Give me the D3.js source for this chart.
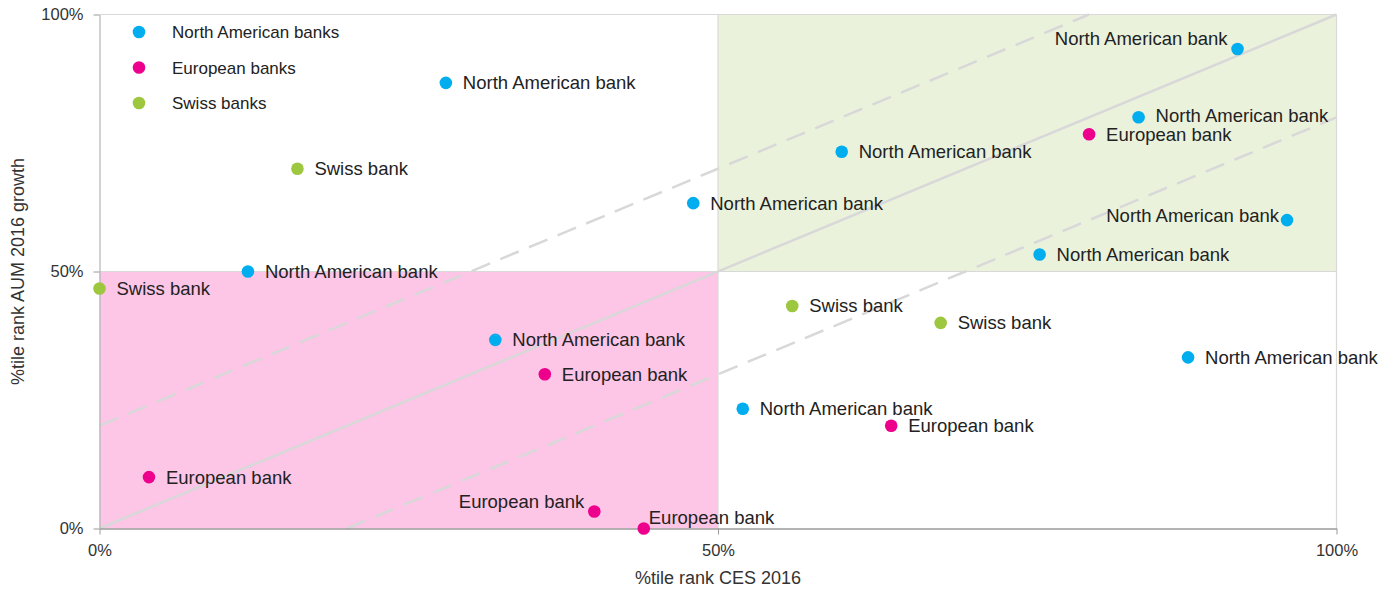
<!DOCTYPE html>
<html>
<head>
<meta charset="utf-8">
<script src="https://cdn.jsdelivr.net/npm/d3@7"></script>
<style>
  html, body { margin: 0; padding: 0; background: #fff; }
  svg { display: block; font-family: "Liberation Sans", Arial, sans-serif; }
</style>
</head>
<body>
<svg id="chart" width="1396" height="592"></svg>
<script>
// ---- data ----
const names = [
  "North American bank","Swiss bank","North American bank","North American bank","Swiss bank",
  "North American bank","European bank","European bank","European bank","European bank",
  "North American bank","Swiss bank","European bank","Swiss bank","North American bank",
  "North American bank","European bank","North American bank","North American bank","North American bank",
  "North American bank"
];
const groups = [
  "NA","CH","NA","NA","CH",
  "NA","EU","EU","EU","EU",
  "NA","CH","EU","CH","NA",
  "NA","EU","NA","NA","NA",
  "NA"
];
const cesRank = [28,16,48,12,0, 32,36,4,40,44, 52,56,64,68,60, 76,80,84,88,92, 96];
const aumRank = [86.7,70,63.3,50,46.7, 36.7,30,10,3.3,0, 23.3,43.3,20,40,73.3, 53.3,76.7,80,33.3,93.3, 60];
// label placement: "r" right of dot, "l" left of dot, "la"/"ra" left/right above, "ru" right slightly up
const labelPos = ["r","r","r","r","r", "r","r","r","la","ra", "r","r","r","r","r", "r","r","ru","r","la", "l"];

const legendNames = ["North American banks","European banks","Swiss banks"];
const legendKeys = ["NA","EU","CH"];
const xTicks = [0, 50, 100];
const yTicks = [0, 50, 100];
const diagonals = [
  {pts: [[0,0],[100,100]], dash: null},
  {pts: [[0,20],[80,100]], dash: "20,11"},
  {pts: [[20,0],[100,80]], dash: "20,11"}
];

const colors = {NA: "#00aeef", EU: "#ec008c", CH: "#9dc73f"};

// ---- layout ----
const svg = d3.select("#chart");
const x = d3.scaleLinear().domain([0,100]).range([99.5, 1336.5]);
const y = d3.scaleLinear().domain([0,100]).range([528.5, 14.5]);

// quadrant fills
svg.append("rect")
  .attr("x", x(0)).attr("y", y(50))
  .attr("width", x(50)-x(0)).attr("height", y(0)-y(50))
  .attr("fill", "#fdc5e6");
svg.append("rect")
  .attr("x", x(50)).attr("y", y(100))
  .attr("width", x(100)-x(50)).attr("height", y(50)-y(100))
  .attr("fill", "#ebf2dc");

// gridlines / border
const gridC = "#d9d9d9";
svg.append("line").attr("x1", x(0)).attr("x2", x(100)).attr("y1", y(50)).attr("y2", y(50)).attr("stroke", gridC).attr("stroke-width", 1.2);
svg.append("line").attr("x1", x(50)).attr("x2", x(50)).attr("y1", y(0)).attr("y2", y(100)).attr("stroke", gridC).attr("stroke-width", 1.2);
svg.append("line").attr("x1", x(0)).attr("x2", x(100)).attr("y1", y(100)).attr("y2", y(100)).attr("stroke", gridC).attr("stroke-width", 1.2);
svg.append("line").attr("x1", x(100)).attr("x2", x(100)).attr("y1", y(0)).attr("y2", y(100)).attr("stroke", gridC).attr("stroke-width", 1.2);

// diagonals
const lineGen = d3.line().x(d => x(d[0])).y(d => y(d[1]));
diagonals.forEach(dg => {
  svg.append("path").attr("d", lineGen(dg.pts))
    .attr("fill", "none").attr("stroke", "#d8d8d8").attr("stroke-width", 2.5)
    .attr("stroke-dasharray", dg.dash);
});

// axes
const xAxis = svg.append("g").attr("transform", `translate(0,${y(0)})`)
  .call(d3.axisBottom(x).tickValues(xTicks).tickFormat(d => d + "%").tickSizeInner(6).tickSizeOuter(0).tickPadding(10));
xAxis.select(".domain").attr("stroke", "#9a9a9a").attr("stroke-width", 1.5);
xAxis.selectAll(".tick line").attr("stroke", "#9a9a9a");
xAxis.selectAll("text").attr("font-size", 16.5).attr("fill", "#333").attr("font-family", "Liberation Sans, Arial, sans-serif");

const yAxis = svg.append("g").attr("transform", `translate(${x(0)},0)`)
  .call(d3.axisLeft(y).tickValues(yTicks).tickFormat(d => d + "%").tickSizeInner(6).tickSizeOuter(0).tickPadding(10));
yAxis.select(".domain").attr("stroke", "#b5b5b5").attr("stroke-width", 1.2);
yAxis.selectAll(".tick line").attr("stroke", "#9a9a9a");
yAxis.selectAll("text").attr("font-size", 16.5).attr("fill", "#333").attr("font-family", "Liberation Sans, Arial, sans-serif");

// axis titles
svg.append("text").attr("x", x(50)).attr("y", 584).attr("text-anchor", "middle")
  .attr("font-size", 18).attr("fill", "#333").text("%tile rank CES 2016");
svg.append("text").attr("transform", `translate(24,${y(50)}) rotate(-90)`).attr("text-anchor", "middle")
  .attr("font-size", 18).attr("fill", "#333").text("%tile rank AUM 2016 growth");

// points
const data = names.map((n,i) => ({name: n, g: groups[i], cx: cesRank[i], cy: aumRank[i], pos: labelPos[i]}));
const pts = svg.append("g");
pts.selectAll("circle").data(data).join("circle")
  .attr("cx", d => x(d.cx)).attr("cy", d => y(d.cy)).attr("r", 6.3)
  .attr("fill", d => colors[d.g]);

const isRight = p => p === "r" || p === "ra" || p === "ru";
const dyFor = {r: 6.5, ru: 5, la: -4, ra: -5, l: 2};
pts.selectAll("text").data(data).join("text")
  .attr("x", d => isRight(d.pos) ? x(d.cx) + (d.pos === "ra" ? 5 : 17) : x(d.cx) - (d.pos === "la" ? 10 : 8))
  .attr("y", d => y(d.cy) + dyFor[d.pos])
  .attr("text-anchor", d => isRight(d.pos) ? "start" : "end")
  .attr("font-size", 18.5).attr("fill", "#222")
  .text(d => d.name);

// legend
const leg = svg.append("g");
legendNames.forEach((n,i) => {
  const ly = 32 + i*35.5;
  leg.append("circle").attr("cx", 139).attr("cy", ly).attr("r", 6.3).attr("fill", colors[legendKeys[i]]);
  leg.append("text").attr("x", 172).attr("y", ly + 6).attr("font-size", 17).attr("fill", "#222").text(n);
});
</script>
</body>
</html>
